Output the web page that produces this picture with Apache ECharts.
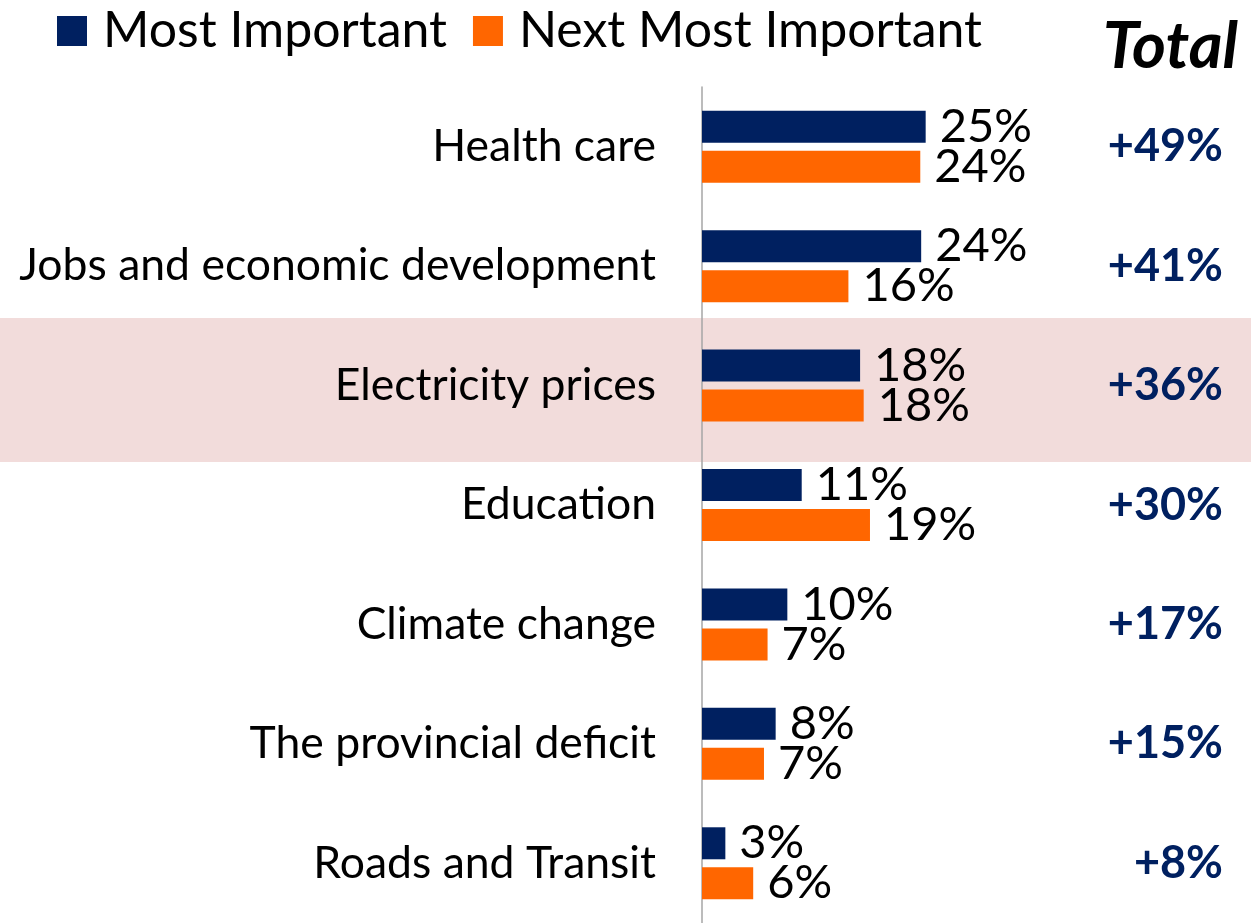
<!DOCTYPE html>
<html>
<head>
<meta charset="utf-8">
<script src="https://cdn.jsdelivr.net/npm/echarts@6/dist/echarts.min.js"></script>
<style>html,body{margin:0;padding:0;background:#fff}#c{width:1251px;height:923px}</style>
</head>
<body>
<div id="c"></div>
<script>
const categories = ['Health care','Jobs and economic development','Electricity prices','Education','Climate change','The provincial deficit','Roads and Transit'];
const mostImportant = [24.9, 24.4, 17.6, 11.1, 9.5, 8.2, 2.6];
const nextMostImportant = [24.3, 16.3, 18.0, 18.7, 7.3, 6.9, 5.7];
const totals = ['+49%','+41%','+36%','+30%','+17%','+15%','+8%'];
const highlighted = 'Electricity prices';

const FONT = 'Lato';
const NAVY = '#002060';
const ORANGE = '#FF6600';

const chart = echarts.init(document.getElementById('c'), null, {renderer:'canvas'});
const fmt = p => Math.round(p.value) + '%';
const labelStyle = {show:true, position:'right', distance:14, formatter:fmt, color:'#000', fontFamily:FONT, fontSize:47};

chart.setOption({
  animation:false,
  backgroundColor:'#fff',
  legend:{
    left:52, top:1, itemWidth:30, itemHeight:30, itemGap:26, icon:'rect',
    textStyle:{fontFamily:FONT, fontSize:50, color:'#000', padding:[0,0,0,11]},
    data:['Most Important','Next Most Important']
  },
  title:{
    text:'Total', right:8, top:10,
    textStyle:{fontFamily:FONT, fontSize:65, fontWeight:'bold', fontStyle:'italic', color:'#000'}
  },
  grid:{left:702, right:28, top:87, height:840},
  xAxis:{type:'value', min:0, max:58, show:false},
  yAxis:[{
    type:'category', data:categories, inverse:true,
    axisLine:{show:true, lineStyle:{color:'#A6A6A6', width:1.5}},
    axisTick:{show:false}, splitLine:{show:false},
    axisLabel:{margin:46, color:'#000', fontFamily:FONT, fontSize:44.5}
  },{
    type:'category', data:totals, inverse:true, position:'right',
    axisLine:{show:false}, axisTick:{show:false}, splitLine:{show:false},
    axisLabel:{margin:0, align:'right', color:NAVY, fontFamily:FONT, fontSize:45, fontWeight:'bold', padding:[3,0,0,0]}
  }],
  series:[
    {name:'Most Important', type:'bar', data:mostImportant, barWidth:32, barGap:'25%', itemStyle:{color:NAVY}, label:labelStyle},
    {name:'Next Most Important', type:'bar', data:nextMostImportant, barWidth:32, barGap:'25%', itemStyle:{color:ORANGE}, label:labelStyle}
  ]
});

// highlight band behind the highlighted category row
const cy = chart.convertToPixel({yAxisIndex:0}, highlighted);
const band = chart.convertToPixel({yAxisIndex:0}, categories[1]) - chart.convertToPixel({yAxisIndex:0}, categories[0]);
chart.setOption({
  graphic:[{type:'rect', z:-10, silent:true,
    shape:{x:0, y:cy - band*0.565, width:1251, height:band*1.205},
    style:{fill:'#F2DCDB'}}]
});
</script>
</body>
</html>
